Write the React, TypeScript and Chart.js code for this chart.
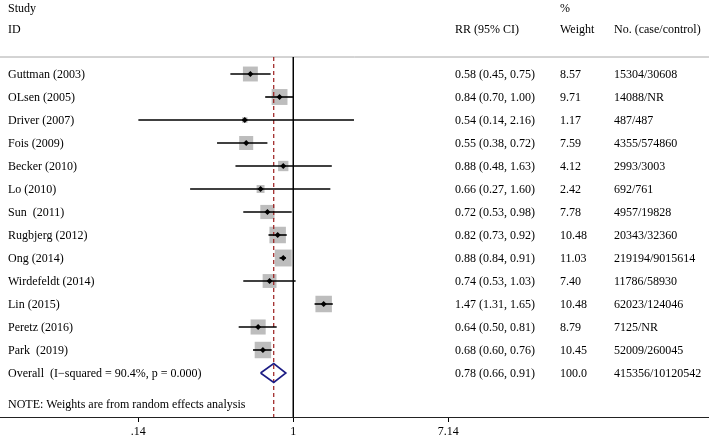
import React, { useEffect, useRef } from 'react';
import { Chart, registerables } from 'chart.js';

Chart.register(...registerables);

// ---------- data ----------
const studies = [
  'Guttman (2003)', 'OLsen (2005)', 'Driver (2007)', 'Fois (2009)', 'Becker (2010)',
  'Lo (2010)', 'Sun  (2011)', 'Rugbjerg (2012)', 'Ong (2014)', 'Wirdefeldt (2014)',
  'Lin (2015)', 'Peretz (2016)', 'Park  (2019)',
];
const rr = [0.58, 0.84, 0.54, 0.55, 0.88, 0.66, 0.72, 0.82, 0.88, 0.74, 1.47, 0.64, 0.68];
const lower = [0.45, 0.70, 0.14, 0.38, 0.48, 0.27, 0.53, 0.73, 0.84, 0.53, 1.31, 0.50, 0.60];
const upper = [0.75, 1.00, 2.16, 0.72, 1.63, 1.60, 0.98, 0.92, 0.91, 1.03, 1.65, 0.81, 0.76];
const weights = [8.57, 9.71, 1.17, 7.59, 4.12, 2.42, 7.78, 10.48, 11.03, 7.40, 10.48, 8.79, 10.45];
const cases = [
  '15304/30608', '14088/NR', '487/487', '4355/574860', '2993/3003', '692/761', '4957/19828',
  '20343/32360', '219194/9015614', '11786/58930', '62023/124046', '7125/NR', '52009/260045',
];
const overallLabel = 'Overall  (I\u2212squared = 90.4%, p = 0.000)';
const overallRR = 0.78;
const overallLower = 0.66;
const overallUpper = 0.91;
const overallWeight = '100.0';
const overallCases = '415356/10120542';
const noteText = 'NOTE: Weights are from random effects analysis';
const tickValues = [0.14, 1, 7.14];
const tickLabels = ['.14', '1', '7.14'];

// ---------- layout (scale bounds & positions) ----------
const PX_PER_LN = 78.8;
const X_ONE_PX = 293.3;
const W = 709;
const H = 437;
const XMIN = Math.exp(-X_ONE_PX / PX_PER_LN);
const XMAX = Math.exp((W - X_ONE_PX) / PX_PER_LN);
const ROW_PX = 23;
const FIRST_ROW_PX = 74;
const PLOT_BOTTOM = 417;
const YMIN = -FIRST_ROW_PX / ROW_PX;
const YMAX = YMIN + PLOT_BOTTOM / ROW_PX;
const HEAD1 = (7.5 - FIRST_ROW_PX) / ROW_PX;
const HEAD2 = (29 - FIRST_ROW_PX) / ROW_PX;
const TOP_RULE = (57 - FIRST_ROW_PX) / ROW_PX;
const NOTE_ROW = (404 - FIRST_ROW_PX) / ROW_PX;
const OVERALL_ROW = studies.length;
const DIAMOND_HALF = 9.5 / ROW_PX;
const BOX_SCALE = 3.6;

const COL_STUDY = 8;
const COL_RR = 455;
const COL_W = 560;
const COL_N = 614;
const FONT_FAMILY = '"Liberation Serif", "Times New Roman", serif';
const FONT = `12px ${FONT_FAMILY}`;

const fmt = (v: number) => v.toFixed(2);

const textPlugin = {
  id: 'forestText',
  afterDraw(chart: any) {
    const { ctx } = chart;
    const y = chart.scales.y;
    ctx.save();
    ctx.font = FONT;
    ctx.fillStyle = '#000';
    ctx.textBaseline = 'middle';
    ctx.textAlign = 'left';
    const put = (t: string, x: number, row: number) => ctx.fillText(t, x, y.getPixelForValue(row) + 1);
    put('Study', COL_STUDY, HEAD1);
    put('ID', COL_STUDY, HEAD2);
    put('RR (95% CI)', COL_RR, HEAD2);
    put('%', COL_W, HEAD1);
    put('Weight', COL_W, HEAD2);
    put('No. (case/control)', COL_N, HEAD2);
    studies.forEach((s, i) => {
      put(s, COL_STUDY, i);
      put(`${fmt(rr[i])} (${fmt(lower[i])}, ${fmt(upper[i])})`, COL_RR, i);
      put(weights[i].toFixed(2), COL_W, i);
      put(cases[i], COL_N, i);
    });
    put(overallLabel, COL_STUDY, OVERALL_ROW);
    put(`${fmt(overallRR)} (${fmt(overallLower)}, ${fmt(overallUpper)})`, COL_RR, OVERALL_ROW);
    put(overallWeight, COL_W, OVERALL_ROW);
    put(overallCases, COL_N, OVERALL_ROW);
    put(noteText, COL_STUDY, NOTE_ROW);
    ctx.restore();
  },
};

export default function App() {
  const ref = useRef<HTMLCanvasElement | null>(null);

  useEffect(() => {
    document.body.style.margin = '0';
    const canvas = ref.current;
    if (!canvas) return;

    const ciSets = studies.map((_, i) => ({
      data: [{ x: lower[i], y: i }, { x: upper[i], y: i }],
      showLine: true,
      borderColor: '#000',
      borderWidth: 1.6,
      pointRadius: 0,
      clip: false,
      order: 3,
    }));

    const datasets: any[] = [
      {
        data: studies.map((_, i) => ({ x: rr[i], y: i })),
        pointStyle: 'rect',
        pointRadius: weights.map((w) => BOX_SCALE * Math.sqrt(w)),
        backgroundColor: '#bdbdbd',
        borderWidth: 0,
        showLine: false,
        order: 6,
      },
      {
        data: [{ x: XMIN, y: TOP_RULE }, { x: XMAX, y: TOP_RULE }],
        showLine: true,
        borderColor: '#a8a8a8',
        borderWidth: 1,
        pointRadius: 0,
        clip: false,
        order: 5,
      },
      {
        data: [{ x: 1, y: TOP_RULE }, { x: 1, y: YMAX }],
        showLine: true,
        borderColor: '#000',
        borderWidth: 1,
        pointRadius: 0,
        clip: false,
        order: 4,
      },
      {
        data: [{ x: overallRR, y: TOP_RULE }, { x: overallRR, y: YMAX }],
        showLine: true,
        borderColor: '#9b1c1c',
        borderWidth: 1.2,
        borderDash: [4, 3],
        pointRadius: 0,
        clip: false,
        order: 4,
      },
      ...ciSets,
      {
        data: studies.map((_, i) => ({ x: rr[i], y: i })),
        pointStyle: 'rectRot',
        pointRadius: 3,
        backgroundColor: '#000',
        borderWidth: 0,
        showLine: false,
        order: 2,
      },
      {
        data: [
          { x: overallLower, y: OVERALL_ROW },
          { x: overallRR, y: OVERALL_ROW - DIAMOND_HALF },
          { x: overallUpper, y: OVERALL_ROW },
          { x: overallRR, y: OVERALL_ROW + DIAMOND_HALF },
          { x: overallLower, y: OVERALL_ROW },
        ],
        showLine: true,
        borderColor: '#1c1c84',
        borderWidth: 1.6,
        borderJoinStyle: 'miter',
        pointRadius: 0,
        tension: 0,
        fill: false,
        clip: false,
        order: 1,
      },
    ];

    const chart = new Chart(canvas, {
      type: 'scatter',
      data: { datasets },
      options: {
        animation: false,
        responsive: false,
        devicePixelRatio: 1,
        events: [],
        layout: { padding: 0, autoPadding: false } as any,
        plugins: { legend: { display: false }, tooltip: { enabled: false }, title: { display: false } },
        scales: {
          x: {
            type: 'logarithmic',
            position: 'bottom',
            min: XMIN,
            max: XMAX,
            afterBuildTicks: (s: any) => {
              s.ticks = tickValues.map((v) => ({ value: v }));
            },
            afterFit: (s: any) => {
              s.height = H - PLOT_BOTTOM;
            },
            ticks: {
              autoSkip: false,
              maxRotation: 0,
              padding: 3,
              color: '#000',
              font: { family: FONT_FAMILY, size: 12 },
              callback: (_v: any, idx: number) => tickLabels[idx],
            },
            grid: { display: true, drawOnChartArea: false, drawTicks: true, tickLength: 5, color: '#000', lineWidth: 1 },
            border: { display: true, color: '#222', width: 1 },
          },
          y: {
            type: 'linear',
            display: false,
            reverse: true,
            min: YMIN,
            max: YMAX,
          },
        },
      },
      plugins: [textPlugin],
    });

    return () => chart.destroy();
  }, []);

  return (
    <div style={{ width: W, height: H, background: '#fff' }}>
      <canvas ref={ref} width={W} height={H} style={{ display: 'block' }} />
    </div>
  );
}
